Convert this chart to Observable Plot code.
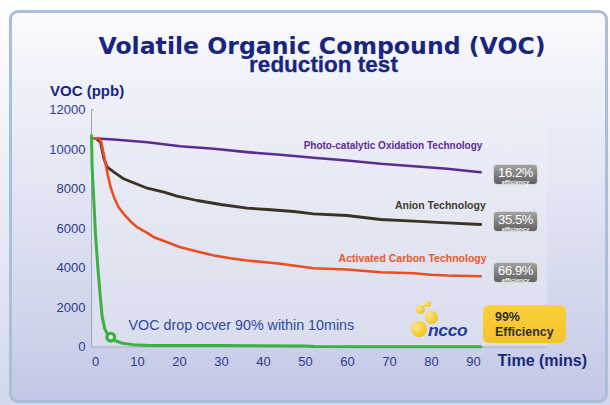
<!DOCTYPE html>
<html>
<head>
<meta charset="utf-8">
<script src="https://cdn.jsdelivr.net/npm/d3@7"></script>
<script src="https://cdn.jsdelivr.net/npm/@observablehq/plot@0.6"></script>
<style>
  html, body { margin: 0; padding: 0; }
  body { font-family: "Liberation Sans", Arial, sans-serif; }
  #wrap { position: relative; width: 610px; height: 405px; overflow: hidden;
          background: linear-gradient(#ffffff 0%, #eef0f8 40%, #d3d8ee 100%); }
  #panel { position: absolute; left: 9px; top: 10px; width: 599px; height: 393px; box-sizing: border-box;
           border: 3px solid #a9bfdc; border-radius: 9px;
           background: linear-gradient(#fbfbfe 0%, #eceef8 25%, #dee1f1 55%, #cdd2eb 85%, #c1c7e5 100%); }
  #plotbg { position: absolute; left: 91px; top: 108px; width: 456px; height: 239px;
            background: linear-gradient(#eeeff8, #dadded); }
  #chart { position: absolute; left: 0; top: 0; }
  .t { position: absolute; white-space: nowrap; color: #19267f; font-weight: bold; }
  #title { left: 322px; top: 36.1px; font-family: "DejaVu Sans", Verdana, sans-serif; font-size: 23.6px; line-height: 20px;
           transform: translateX(-50%); }
  #subtitle { left: 323.5px; top: 57px; font-size: 22.5px; line-height: 16px; transform: translateX(-50%);
              -webkit-text-stroke: 0.3px #19267f; }
  #ylab { left: 50px; top: 83.3px; font-size: 15px; line-height: 15px; }
  #xlab { left: 497.5px; top: 352.5px; font-size: 16px; line-height: 16px; }
  .badge { position: absolute; left: 493px; width: 45px; height: 21px; box-sizing: border-box; border-radius: 4px;
           border: 1px solid #d9d9d9; background: linear-gradient(#a3a3a3, #5f5f5f); color: #fff; text-align: center; }
  .badge .p { position: absolute; left: 0; right: 0; top: 1px; font-size: 13px; line-height: 13px; letter-spacing: -0.4px; }
  .badge .e { position: absolute; left: 0; right: 0; top: 13.5px; font-size: 6px; line-height: 6px; font-weight: bold; }
  #yellow { position: absolute; left: 483px; top: 305px; width: 83px; height: 38px; border-radius: 6px;
            background: linear-gradient(#fbd03c, #f6c22a); color: #2f2f2f; box-sizing: border-box;
            padding: 4.6px 0 0 12px; font-size: 12.4px; line-height: 15.6px; font-weight: bold; }
  .c { position: absolute; border-radius: 50%; background: radial-gradient(circle at 35% 35%, #fde98a, #f4c21c 70%); }
  #ncco { position: absolute; left: 428px; top: 322px; font-size: 17.4px; line-height: 17.4px; font-weight: bold;
          font-style: italic; color: #1f3c9b; letter-spacing: -0.3px; }
</style>
</head>
<body>
<div id="wrap">
  <div id="panel"></div>
  <div id="plotbg"></div>
  <div class="t" id="title">Volatile Organic Compound (VOC)</div>
  <div class="t" id="subtitle">reduction test</div>
  <div class="t" id="ylab">VOC (ppb)</div>
  <div id="chart"></div>
  <div class="t" id="xlab">Time (mins)</div>
  <div class="badge" style="top:164px"><div class="p">16.2%</div><div class="e">efficiency</div></div>
  <div class="badge" style="top:211px"><div class="p">35.5%</div><div class="e">efficiency</div></div>
  <div class="badge" style="top:262px"><div class="p">66.9%</div><div class="e">efficiency</div></div>
  <div class="c" style="left:411px;top:321px;width:16px;height:16px"></div>
  <div class="c" style="left:424.5px;top:311px;width:13px;height:13px"></div>
  <div class="c" style="left:415.5px;top:304.5px;width:9px;height:9px"></div>
  <div class="c" style="left:424px;top:300.5px;width:6.5px;height:6.5px"></div>
  <div id="ncco">ncco</div>
  <div id="yellow">99%<br>Efficiency</div>
</div>
<script>
// ---- data ----
const xTicks = [0, 10, 20, 30, 40, 50, 60, 70, 80, 90];
const yTicks = [0, 2000, 4000, 6000, 8000, 10000, 12000];

// Photo-catalytic Oxidation Technology
const timePhoto = [-0.8, 4.4, 12.3, 20.2, 28.2, 36.1, 44, 51.9, 59.9, 67.9, 75.8, 83.7, 91.7];
const vocPhoto  = [10570, 10506, 10370, 10167, 10035, 9865, 9732, 9580, 9443, 9276, 9154, 9023, 8851];

// Anion Technology
const timeAnion = [0.5, 1.2, 2.0, 2.8, 4.4, 6.7, 8.3, 10.7, 12.3, 16.3, 19.4, 24.2, 29.8, 36.1, 40.9, 47.2, 51.9, 59.9, 67.9, 75.8, 83.7, 91.7];
const vocAnion  = [10500, 10370, 9529, 9104, 8851, 8516, 8380, 8177, 8041, 7838, 7635, 7418, 7215, 7028, 6962, 6861, 6744, 6658, 6456, 6370, 6289, 6203];

// Activated Carbon Technology
const timeCarbon = [-0.8, 0.8, 1.4, 2.0, 2.8, 3.6, 4.4, 5.5, 6.7, 8.3, 9.9, 12.3, 13.9, 17.1, 20.2, 24.2, 28.2, 32.1, 36.1, 44.0, 51.9, 59.9, 67.9, 75.8, 79.8, 83.7, 91.7];
const vocCarbon  = [10572, 10572, 10370, 9696, 8851, 8091, 7585, 7078, 6744, 6370, 6066, 5782, 5559, 5306, 5053, 4835, 4633, 4496, 4380, 4212, 3990, 3924, 3787, 3737, 3656, 3620, 3585];

// NCCO
const timeNcco = [-0.95, -0.8, -0.4, 0, 0.55, 1.2, 1.6, 2.2, 2.8, 3.64, 4.6, 6.4, 9, 13, 30, 50, 52, 70, 91.7];
const vocNcco  = [10700, 9100, 7420, 5730, 4040, 2400, 1510, 920, 670, 496, 330, 190, 120, 80, 70, 55, 20, 15, 10];

// annotations
const seriesNames = ["Photo-catalytic Oxidation Technology", "Anion Technology", "Activated Carbon Technology"];
const noteText = ["VOC drop ocver 90% within 10mins"];
const markerTime = [3.64];
const markerVoc = [496];

// ---- build tables ----
const rows = (t, v) => t.map((d, i) => ({time: d, voc: v[i]}));
const photo = rows(timePhoto, vocPhoto);
const anion = rows(timeAnion, vocAnion);
const carbon = rows(timeCarbon, vocCarbon);
const ncco = rows(timeNcco, vocNcco);

const colors = ["#5b2d90", "#3a3222", "#ea4e22", "#3cb043"];
const labelRows = [
  {name: seriesNames[0], time: 92.1, voc: 10182, color: "#5b2d90", size: 10},
  {name: seriesNames[1], time: 92.9, voc: 7149, color: "#3d3a30", size: 10.5},
  {name: seriesNames[2], time: 93.1, voc: 4481, color: "#e8582a", size: 10.5}
];

const xmin = -0.95, xmax = 107.6;

const chart = Plot.plot({
  width: 610,
  height: 405,
  marginLeft: 91,
  marginRight: 63,
  marginTop: 109.5,
  marginBottom: 58.5,
  style: {background: "transparent", color: "#2c3a8f", fontFamily: "Liberation Sans, Arial, sans-serif", fontSize: "13px"},
  x: {domain: [xmin, xmax]},
  y: {domain: [0, 12000]},
  marks: [
    Plot.axisY({ticks: yTicks, tickSize: 0, tickPadding: 6, fontSize: 13, label: null, tickFormat: d => String(d)}),
    Plot.axisX({ticks: xTicks, tickSize: 0, tickPadding: 10, fontSize: 13, label: null}),
    Plot.ruleX([xmin], {y1: 0, y2: 12000, stroke: "#9ca2b8", strokeWidth: 1}),
    Plot.ruleY([12000], {x1: xmin, x2: xmin + 0.7, stroke: "#9ca2b8", strokeWidth: 1}),
    Plot.ruleY([0], {x1: xmin, x2: xmax, stroke: "#a3a8bd", strokeWidth: 1}),
    Plot.line(photo, {x: "time", y: "voc", stroke: colors[0], strokeWidth: 2.6}),
    Plot.line(anion, {x: "time", y: "voc", stroke: colors[1], strokeWidth: 2.8}),
    Plot.line(carbon, {x: "time", y: "voc", stroke: colors[2], strokeWidth: 2.6}),
    Plot.line(ncco, {x: "time", y: "voc", stroke: colors[3], strokeWidth: 3}),
    Plot.dot(markerTime.map((t, i) => ({time: t, voc: markerVoc[i]})), {x: "time", y: "voc", r: 3.8, stroke: colors[3], strokeWidth: 3.4, fill: "white"}),
    Plot.text(labelRows, {x: "time", y: "voc", text: "name", fill: "color", fontSize: "size", fontWeight: "bold", textAnchor: "end"}),
    Plot.text(noteText, {x: 7.86, y: 1089, text: d => d, fill: "#2e4a9e", fontSize: 14.3, textAnchor: "start"})
  ]
});
document.getElementById("chart").appendChild(chart);
</script>
</body>
</html>
